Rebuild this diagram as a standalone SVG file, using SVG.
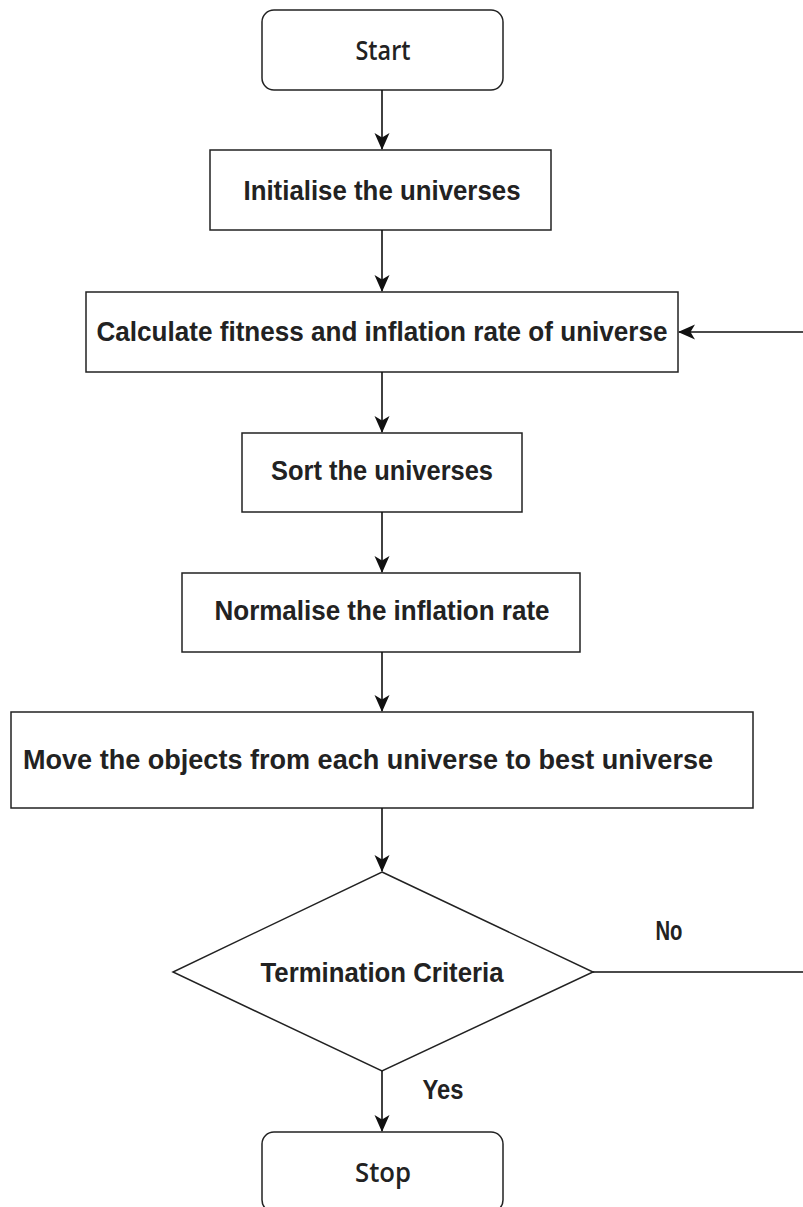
<svg xmlns="http://www.w3.org/2000/svg" width="803" height="1207" viewBox="0 0 803 1207">
<defs>
<style>
.box{fill:#fff;stroke:#222;stroke-width:1.5}
.lbl{font-family:"Liberation Sans",Arial,sans-serif;font-weight:bold;font-size:27px;fill:#222;text-anchor:middle;dominant-baseline:central}
.term{font-family:"Open Sans","Noto Sans",sans-serif;font-weight:600;font-size:27px;fill:#222;text-anchor:middle;dominant-baseline:central}
.edge{fill:none;stroke:#111;stroke-width:1.6}
</style>
<marker id="arr" viewBox="0 0 17 16" refX="16" refY="8" markerWidth="17" markerHeight="16" markerUnits="userSpaceOnUse" orient="auto">
<path d="M0,0.5 L17,8 L0,15.5 L4.5,8 Z" fill="#111"/>
</marker>
</defs>
<g id="start">
<rect class="box" x="262" y="10" width="241" height="80" rx="12"/>
<text class="term" x="383" y="49" textLength="55" lengthAdjust="spacingAndGlyphs">Start</text>
</g>
<g id="init">
<rect class="box" x="210" y="150" width="341" height="80"/>
<text class="lbl" x="382" y="191" textLength="277" lengthAdjust="spacingAndGlyphs">Initialise the universes</text>
</g>
<g id="calc">
<rect class="box" x="86" y="292" width="592" height="80"/>
<text class="lbl" x="382" y="332" textLength="571" lengthAdjust="spacingAndGlyphs">Calculate fitness and inflation rate of universe</text>
</g>
<g id="sort">
<rect class="box" x="242" y="433" width="280" height="79"/>
<text class="lbl" x="382" y="471" textLength="222" lengthAdjust="spacingAndGlyphs">Sort the universes</text>
</g>
<g id="normalise">
<rect class="box" x="182" y="573" width="398" height="79"/>
<text class="lbl" x="382" y="611" textLength="335" lengthAdjust="spacingAndGlyphs">Normalise the inflation rate</text>
</g>
<g id="move">
<rect class="box" x="11" y="712" width="742" height="96"/>
<text class="lbl" x="368" y="760" textLength="690" lengthAdjust="spacingAndGlyphs">Move the objects from each universe to best universe</text>
</g>
<g id="decision">
<polygon class="box" points="382,872 593,972 382,1071 173,972"/>
<text class="lbl" x="382" y="973" textLength="243" lengthAdjust="spacingAndGlyphs">Termination Criteria</text>
</g>
<g id="stop">
<rect class="box" x="262" y="1132" width="241" height="80" rx="12"/>
<text class="term" x="383" y="1171" textLength="56" lengthAdjust="spacingAndGlyphs">Stop</text>
</g>
<g id="connectors">
<path class="edge" d="M382,90 V149" marker-end="url(#arr)"/>
<path class="edge" d="M382,230 V291" marker-end="url(#arr)"/>
<path class="edge" d="M382,372 V432" marker-end="url(#arr)"/>
<path class="edge" d="M382,512 V572" marker-end="url(#arr)"/>
<path class="edge" d="M382,652 V711" marker-end="url(#arr)"/>
<path class="edge" d="M382,808 V871" marker-end="url(#arr)"/>
<path class="edge" d="M382,1071 V1131" marker-end="url(#arr)"/>
<path class="edge" d="M593,972 H805 V332 H679" marker-end="url(#arr)"/>
<text class="lbl" x="669" y="931" textLength="27" lengthAdjust="spacingAndGlyphs">No</text>
<text class="lbl" x="443" y="1090" textLength="41" lengthAdjust="spacingAndGlyphs">Yes</text>
</g>
</svg>
